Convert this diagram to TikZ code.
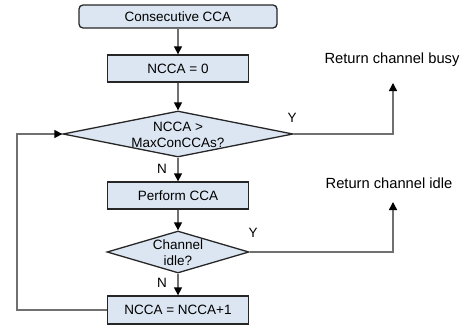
\documentclass[tikz,border=0pt]{standalone}
\usepackage{fontspec}
\setmainfont{Liberation Sans}
\usetikzlibrary{arrows.meta,shapes.geometric}
\definecolor{boxfill}{HTML}{DCE6F2}
\definecolor{linegray}{HTML}{707070}
\begin{document}
\begin{tikzpicture}[x=1pt,y=-1pt,
  box/.style={draw=black!85,line width=1.3pt,fill=boxfill,inner sep=0pt,
    minimum width=141pt,minimum height=27pt,font=\fontsize{13.5}{15}\selectfont},
  dia/.style={draw=black!85,line width=1.3pt,fill=boxfill,shape=diamond,inner sep=0pt},
  txt/.style={font=\fontsize{13.5}{15.5}\selectfont,align=center,inner sep=0pt},
  lbl/.style={font=\fontsize{13.5}{15}\selectfont,inner sep=0pt},
  rtxt/.style={font=\fontsize{14.7}{16}\selectfont,inner sep=0pt},
  conn/.style={draw=linegray,line width=1.3pt,-{Triangle[width=8pt,length=8pt,color=black]}},
  line/.style={draw=linegray,line width=1.3pt}]
\useasboundingbox (0,0) rectangle (471,332);
\node[box,rounded corners=4pt,minimum width=198pt,minimum height=23pt] (start) at (178,16.5) {Consecutive CCA};
\node[box] (init) at (178,68.5) {NCCA = 0};
\node[dia,minimum width=230pt,minimum height=46pt] (d1) at (178,134) {};
\node[txt] (d1t) at (178,135) {NCCA >\\MaxConCCAs?};
\node[box] (cca) at (178,195.5) {Perform CCA};
\node[dia,minimum width=142pt,minimum height=42pt] (d2) at (178,252) {};
\node[txt] (d2t) at (178,252.5) {Channel\\idle?};
\node[box,minimum height=28pt] (inc) at (178,310) {NCCA = NCCA+1};
\node[rtxt] (busy) at (392,60) {Return channel busy};
\node[rtxt] (idle) at (389,183) {Return channel idle};
\coordinate (busyarr) at (393,83);
\coordinate (idlearr) at (393,202);
\coordinate (loopx) at (17,0);
\node[lbl] (y1) at (292,118) {Y};
\node[lbl] (y2) at (253,233) {Y};
\node[lbl] (n1) at (162,169) {N};
\node[lbl] (n2) at (162,283) {N};
\path[conn] (start) -- (init);
\path[conn] (init) -- (d1);
\path[conn] (d1) -- (cca);
\path[conn] (cca) -- (d2);
\path[conn] (d2) -- (inc);
\path[conn] (d1.east) -| (busyarr);
\path[conn] (d2.east) -| (idlearr);
\path[conn] (inc.west) -- (inc.west -| loopx) |- (d1.west);
\end{tikzpicture}
\end{document}
